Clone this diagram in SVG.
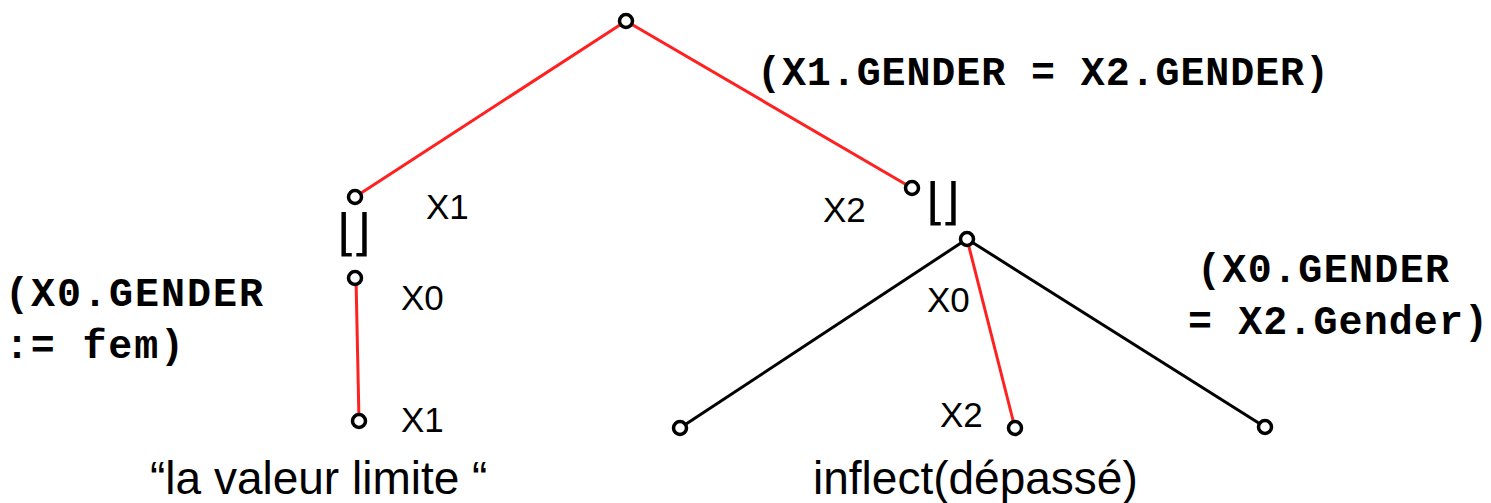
<svg xmlns="http://www.w3.org/2000/svg" width="1491" height="503" viewBox="0 0 1491 503">
<style>
.node{fill:#fff;stroke:#000;stroke-width:3.5}
.red{stroke:#ff2020;stroke-width:3;fill:none}
.blk{stroke:#000;stroke-width:3;fill:none}
.mono{font-family:"Liberation Mono","Courier New",monospace;font-weight:bold;font-size:40px;fill:#000}
.lbl{font-family:"Liberation Sans",Arial,sans-serif;font-size:35px;fill:#000}
.cap{font-family:"Liberation Sans",Arial,sans-serif;font-size:46px;fill:#000}
.sym{font-family:"DejaVu Sans",sans-serif;font-size:50px;font-weight:normal;fill:#000}
</style>
<rect width="1491" height="503" fill="#fff"/>
<g id="connectors">
<line class="red" x1="626" y1="21" x2="355" y2="197"/>
<line class="red" x1="626" y1="21" x2="912" y2="188"/>
<line class="red" x1="356" y1="278" x2="359" y2="421"/>
<line class="blk" x1="967" y1="239" x2="680" y2="428"/>
<line class="red" x1="967" y1="239" x2="1015" y2="428"/>
<line class="blk" x1="967" y1="239" x2="1265" y2="427"/>
</g>
<g id="n-root"><circle class="node" cx="626" cy="21" r="6.5"/></g>
<g id="n-x1"><circle class="node" cx="355" cy="197" r="6.5"/><text class="lbl" x="426" y="219">X1</text></g>
<g id="sym-left"><text class="sym" x="337" y="250" textLength="34" lengthAdjust="spacing">⌊⌋</text></g>
<g id="n-x0-left"><circle class="node" cx="355" cy="278" r="6.5"/><text class="lbl" x="401" y="310">X0</text></g>
<g id="n-x1-bottom"><circle class="node" cx="359" cy="421" r="6.5"/><text class="lbl" x="401" y="432">X1</text></g>
<g id="n-x2"><circle class="node" cx="912" cy="188" r="6.5"/><text class="lbl" x="823" y="222">X2</text></g>
<g id="sym-right"><text class="sym" x="926" y="219" textLength="34" lengthAdjust="spacing">⌊⌋</text></g>
<g id="n-x0-right"><circle class="node" cx="967" cy="239" r="6.5"/><text class="lbl" x="927" y="312">X0</text></g>
<g id="n-leaf-left"><circle class="node" cx="680" cy="428" r="6.5"/></g>
<g id="n-leaf-mid"><circle class="node" cx="1015" cy="428" r="6.5"/><text class="lbl" x="940" y="427">X2</text></g>
<g id="n-leaf-right"><circle class="node" cx="1265" cy="427" r="6.5"/></g>
<g id="constraints">
<text class="mono" x="757" y="85" textLength="572" lengthAdjust="spacing">(X1.GENDER = X2.GENDER)</text>
<text class="mono" x="5" y="306" textLength="258" lengthAdjust="spacing">(X0.GENDER</text>
<text class="mono" x="5" y="358" textLength="179" lengthAdjust="spacing">:= fem)</text>
<text class="mono" x="1197" y="282" textLength="252" lengthAdjust="spacing">(X0.GENDER</text>
<text class="mono" x="1188" y="334" textLength="300" lengthAdjust="spacing">= X2.Gender)</text>
</g>
<g id="captions">
<text class="cap" x="150" y="494">“la valeur limite “</text>
<text class="cap" x="813" y="494">inflect(dépassé)</text>
</g>
</svg>
